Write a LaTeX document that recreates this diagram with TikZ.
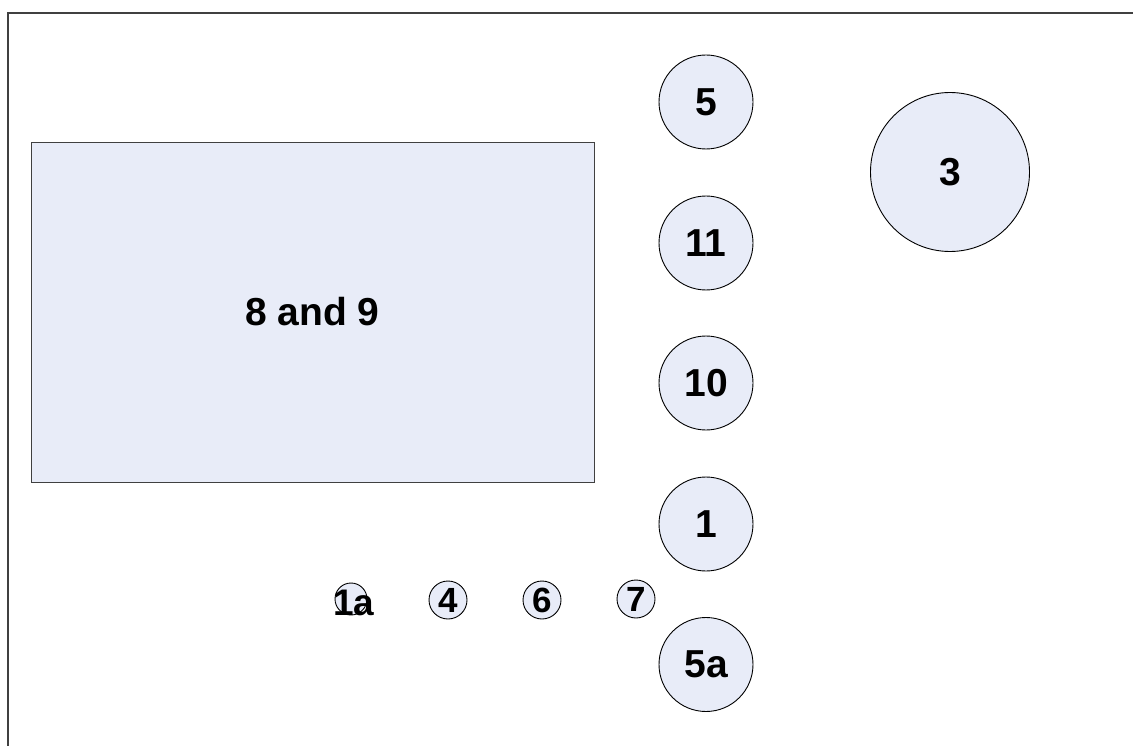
\documentclass[tikz,border=0pt]{standalone}
\usepackage{fontspec}
\setmainfont{Liberation Sans}
\usepackage{tikz}
\usetikzlibrary{positioning}
\definecolor{tablefill}{RGB}{232,236,248}
\definecolor{frameline}{RGB}{64,64,64}
\tikzset{
  tbl/.style   ={circle, draw=black, fill=tablefill, line width=0.9pt,
                 minimum size=94pt, inner sep=0pt, font=\fontsize{39}{43}\selectfont\bfseries},
  tblbig/.style={tbl, minimum size=159pt},
  tblsmall/.style={tbl, minimum size=38pt, font=\fontsize{35}{39}\selectfont\bfseries},
  tbltiny/.style={tbl, minimum size=32pt},
  area/.style  ={rectangle, draw=frameline, fill=tablefill, line width=0.9pt,
                 inner sep=0pt, font=\fontsize{39}{43}\selectfont\bfseries},
  room/.style  ={line width=1.8pt, frameline},
}
\begin{document}
\begin{tikzpicture}[x=1pt, y=-1pt]
\useasboundingbox (0,0) rectangle (1133,746);
% room walls
\coordinate (wallbl) at (8,746);
\coordinate (walltl) at (8,13);
\coordinate (walltr) at (1133,13);
\draw[room] (wallbl) -- (walltl) -- (walltr);
% big area
\node[area, minimum width=563pt, minimum height=340pt] (t89) at (312.5,312) {8 and 9};
% column of tables
\node[tbl] (t5)  at (706,102) {5};
\node[tbl] (t11) at (706,243) {11};
\node[tbl] (t10) at (706,383) {10};
\node[tbl] (t1)  at (706,524) {1};
\node[tbl] (t5a) at (706,664.5) {5a};
\node[tblbig] (t3) at (950,172) {3};
% small tables
\node[tbltiny] (t1a) at (351,599) {};
\node[font=\fontsize{37}{41}\selectfont\bfseries, inner sep=0pt] (l1a) at (354,603) {1a};
\node[tblsmall] (t4) at (448,600) {4};
\node[tblsmall] (t6) at (542,600) {6};
\node[tblsmall] (t7) at (636,599) {7};
\end{tikzpicture}
\end{document}
